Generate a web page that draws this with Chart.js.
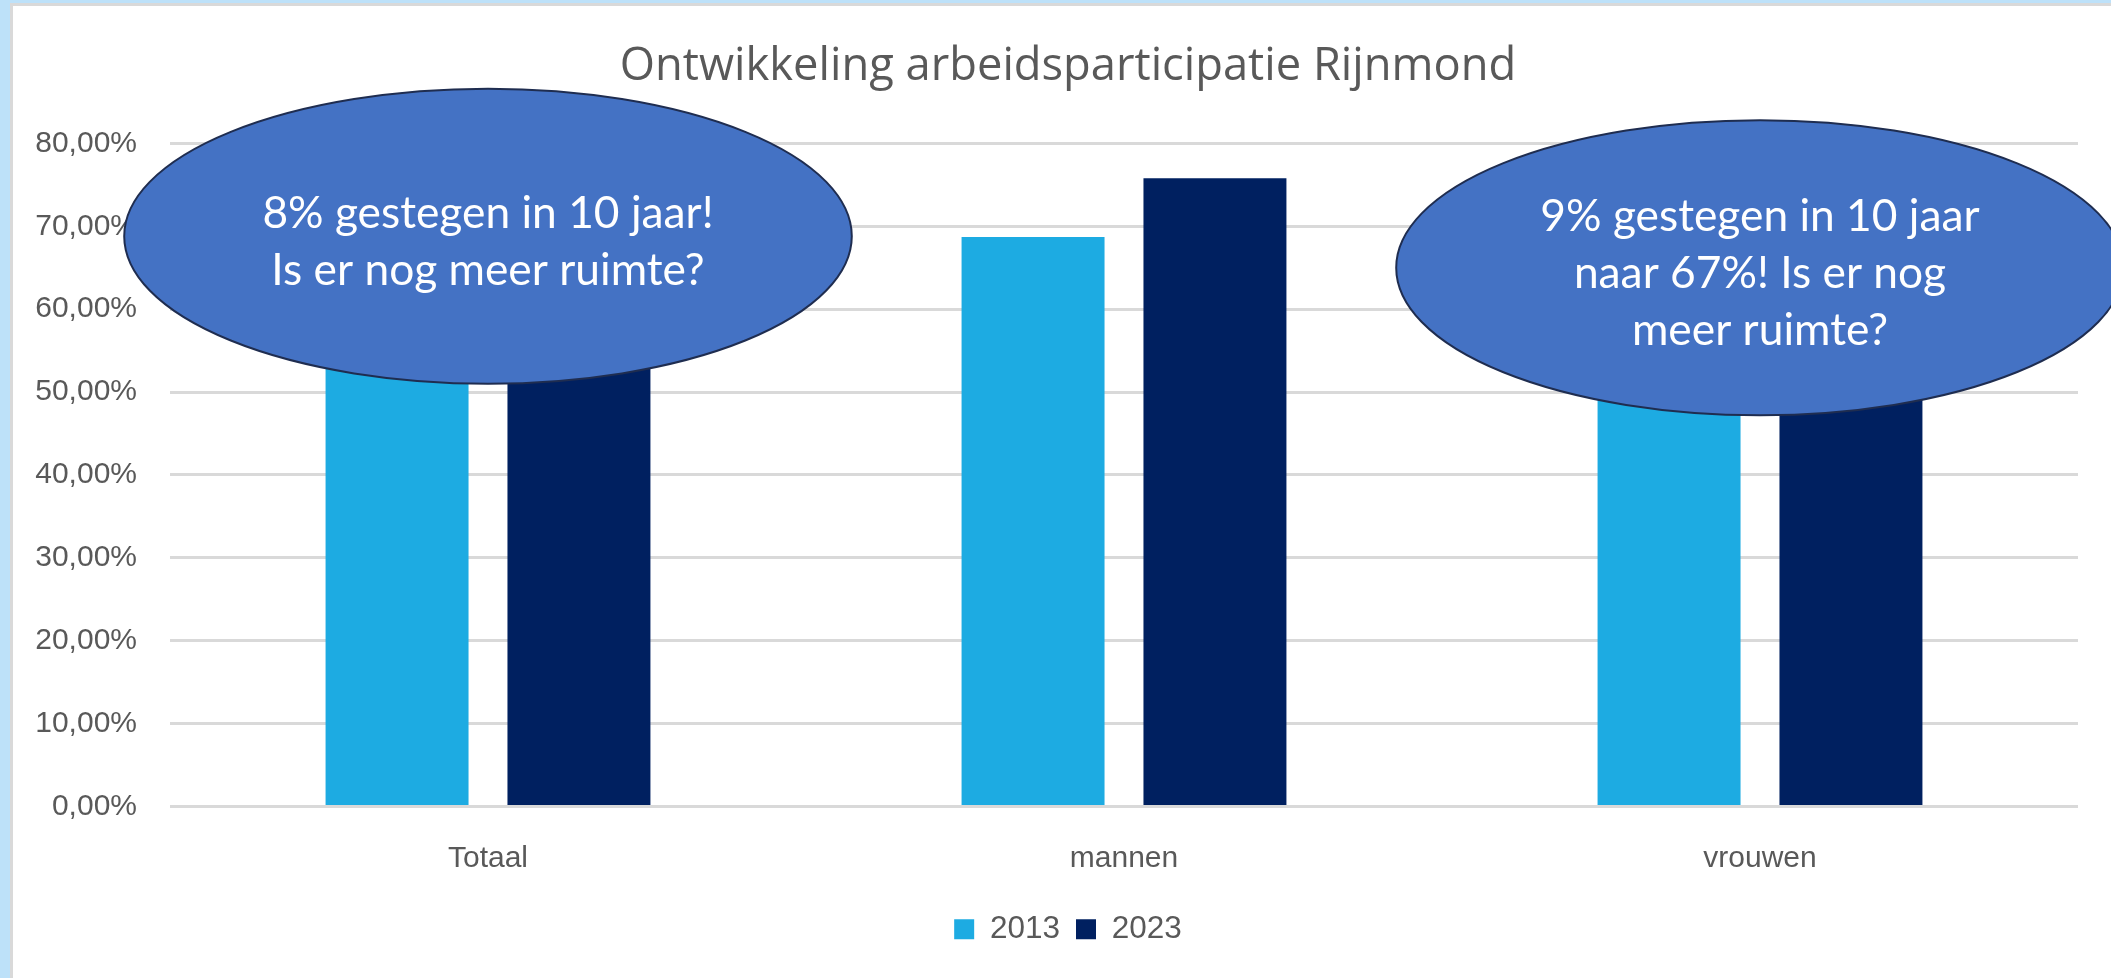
<!DOCTYPE html>
<html>
<head>
<meta charset="utf-8">
<script src="https://cdn.jsdelivr.net/npm/chart.js@4.4.1/dist/chart.umd.min.js"></script>
<style>
    html, body { margin: 0; padding: 0; width: 2111px; height: 978px; overflow: hidden; background: #bde1f9; }
    #frame { position: absolute; left: 10px; top: 3px; width: 2130px; height: 990px; background: #fff;
             border-left: 3px solid #d9d9d9; border-top: 3px solid #d9d9d9; }
    #chart { position: absolute; left: 0; top: 0; }
</style>
</head>
<body>
<div id="frame"><canvas id="chart" width="2110" height="972"></canvas></div>
<script>
    // data
    const categories = ['Totaal', 'mannen', 'vrouwen'];
    const years = ['2013', '2023'];
    const values2013 = [0.634, 0.687, 0.58];
    const values2023 = [0.714, 0.758, 0.67];

    // tekstballonnen (midden in waarde-eenheden)
    const callouts = [
        { category: 'Totaal', center: 0.688, lines: ['8% gestegen in 10 jaar!', 'Is er nog meer ruimte?'] },
        { category: 'vrouwen', center: 0.65, lines: ['9% gestegen in 10 jaar', 'naar 67%! Is er nog', 'meer ruimte?'] }
    ];

    const grey = '#595959';
    const tickFont = { family: 'Liberation Sans, Arial, sans-serif', size: 30 };
    const legendFont = { family: 'Liberation Sans, Arial, sans-serif', size: 31.5 };

    const formatPct = v => (v * 100).toFixed(2).replace('.', ',') + '%';

    const calloutPlugin = {
        id: 'callouts',
        afterDraw(chart) {
            const { ctx, scales: { x, y } } = chart;
            const catW = x.width / categories.length;
            callouts.forEach(c => {
                const cx = x.getPixelForValue(categories.indexOf(c.category));
                const cy = y.getPixelForValue(c.center);
                const rx = catW * 0.572;
                const ry = y.getPixelForValue(0) - y.getPixelForValue(0.178);
                ctx.save();
                ctx.beginPath();
                ctx.ellipse(cx, cy, rx, ry, 0, 0, Math.PI * 2);
                ctx.fillStyle = '#4472c4';
                ctx.fill();
                ctx.lineWidth = 2;
                ctx.strokeStyle = '#1f2d50';
                ctx.stroke();
                ctx.fillStyle = '#ffffff';
                ctx.font = '44.3px Lato';
                ctx.textAlign = 'center';
                ctx.textBaseline = 'middle';
                const lh = 57;
                c.lines.forEach((t, i) => {
                    ctx.fillText(t, cx, cy + 6 + (i - (c.lines.length - 1) / 2) * lh);
                });
                ctx.restore();
            });
        }
    };

    // y-labels mogen links buiten de as-box vallen
    const unclipPlugin = {
        id: 'unclip',
        afterLayout(chart) {
            chart.scales.y.left = 0;
        }
    };

    const ctx = document.getElementById('chart').getContext('2d');
    new Chart(ctx, {
        type: 'bar',
        data: {
            labels: categories,
            datasets: [
                {
                    label: years[0],
                    data: values2013,
                    backgroundColor: '#1dabe2',
                    borderWidth: 0,
                    categoryPercentage: 0.572,
                    barPercentage: 0.786
                },
                {
                    label: years[1],
                    data: values2023,
                    backgroundColor: '#002060',
                    borderWidth: 0,
                    categoryPercentage: 0.572,
                    barPercentage: 0.786
                }
            ]
        },
        options: {
            responsive: false,
            animation: false,
            layout: { padding: { left: 45, right: 45, top: 0, bottom: 23 } },
            plugins: {
                title: {
                    display: true,
                    text: 'Ontwikkeling arbeidsparticipatie Rijnmond',
                    color: grey,
                    font: { family: 'Open Sans', size: 45.3, weight: 'normal' },
                    padding: { top: 34, bottom: 49 }
                },
                legend: {
                    position: 'bottom',
                    labels: { color: grey, font: legendFont, boxWidth: 20, boxHeight: 20, padding: 16 }
                },
                tooltip: { enabled: false }
            },
            scales: {
                x: {
                    grid: { display: false },
                    border: { display: false },
                    ticks: { color: grey, font: tickFont, padding: 26 },
                    afterFit: s => { s.height = 91; }
                },
                y: {
                    min: 0,
                    max: 0.8,
                    grid: { color: '#d9d9d9', lineWidth: 3, drawTicks: false },
                    border: { display: false },
                    ticks: { stepSize: 0.1, color: grey, font: tickFont, padding: 33, callback: formatPct },
                    afterFit: s => { s.width = 112; }
                }
            }
        },
        plugins: [calloutPlugin, unclipPlugin]
    });
</script>
</body>
</html>
